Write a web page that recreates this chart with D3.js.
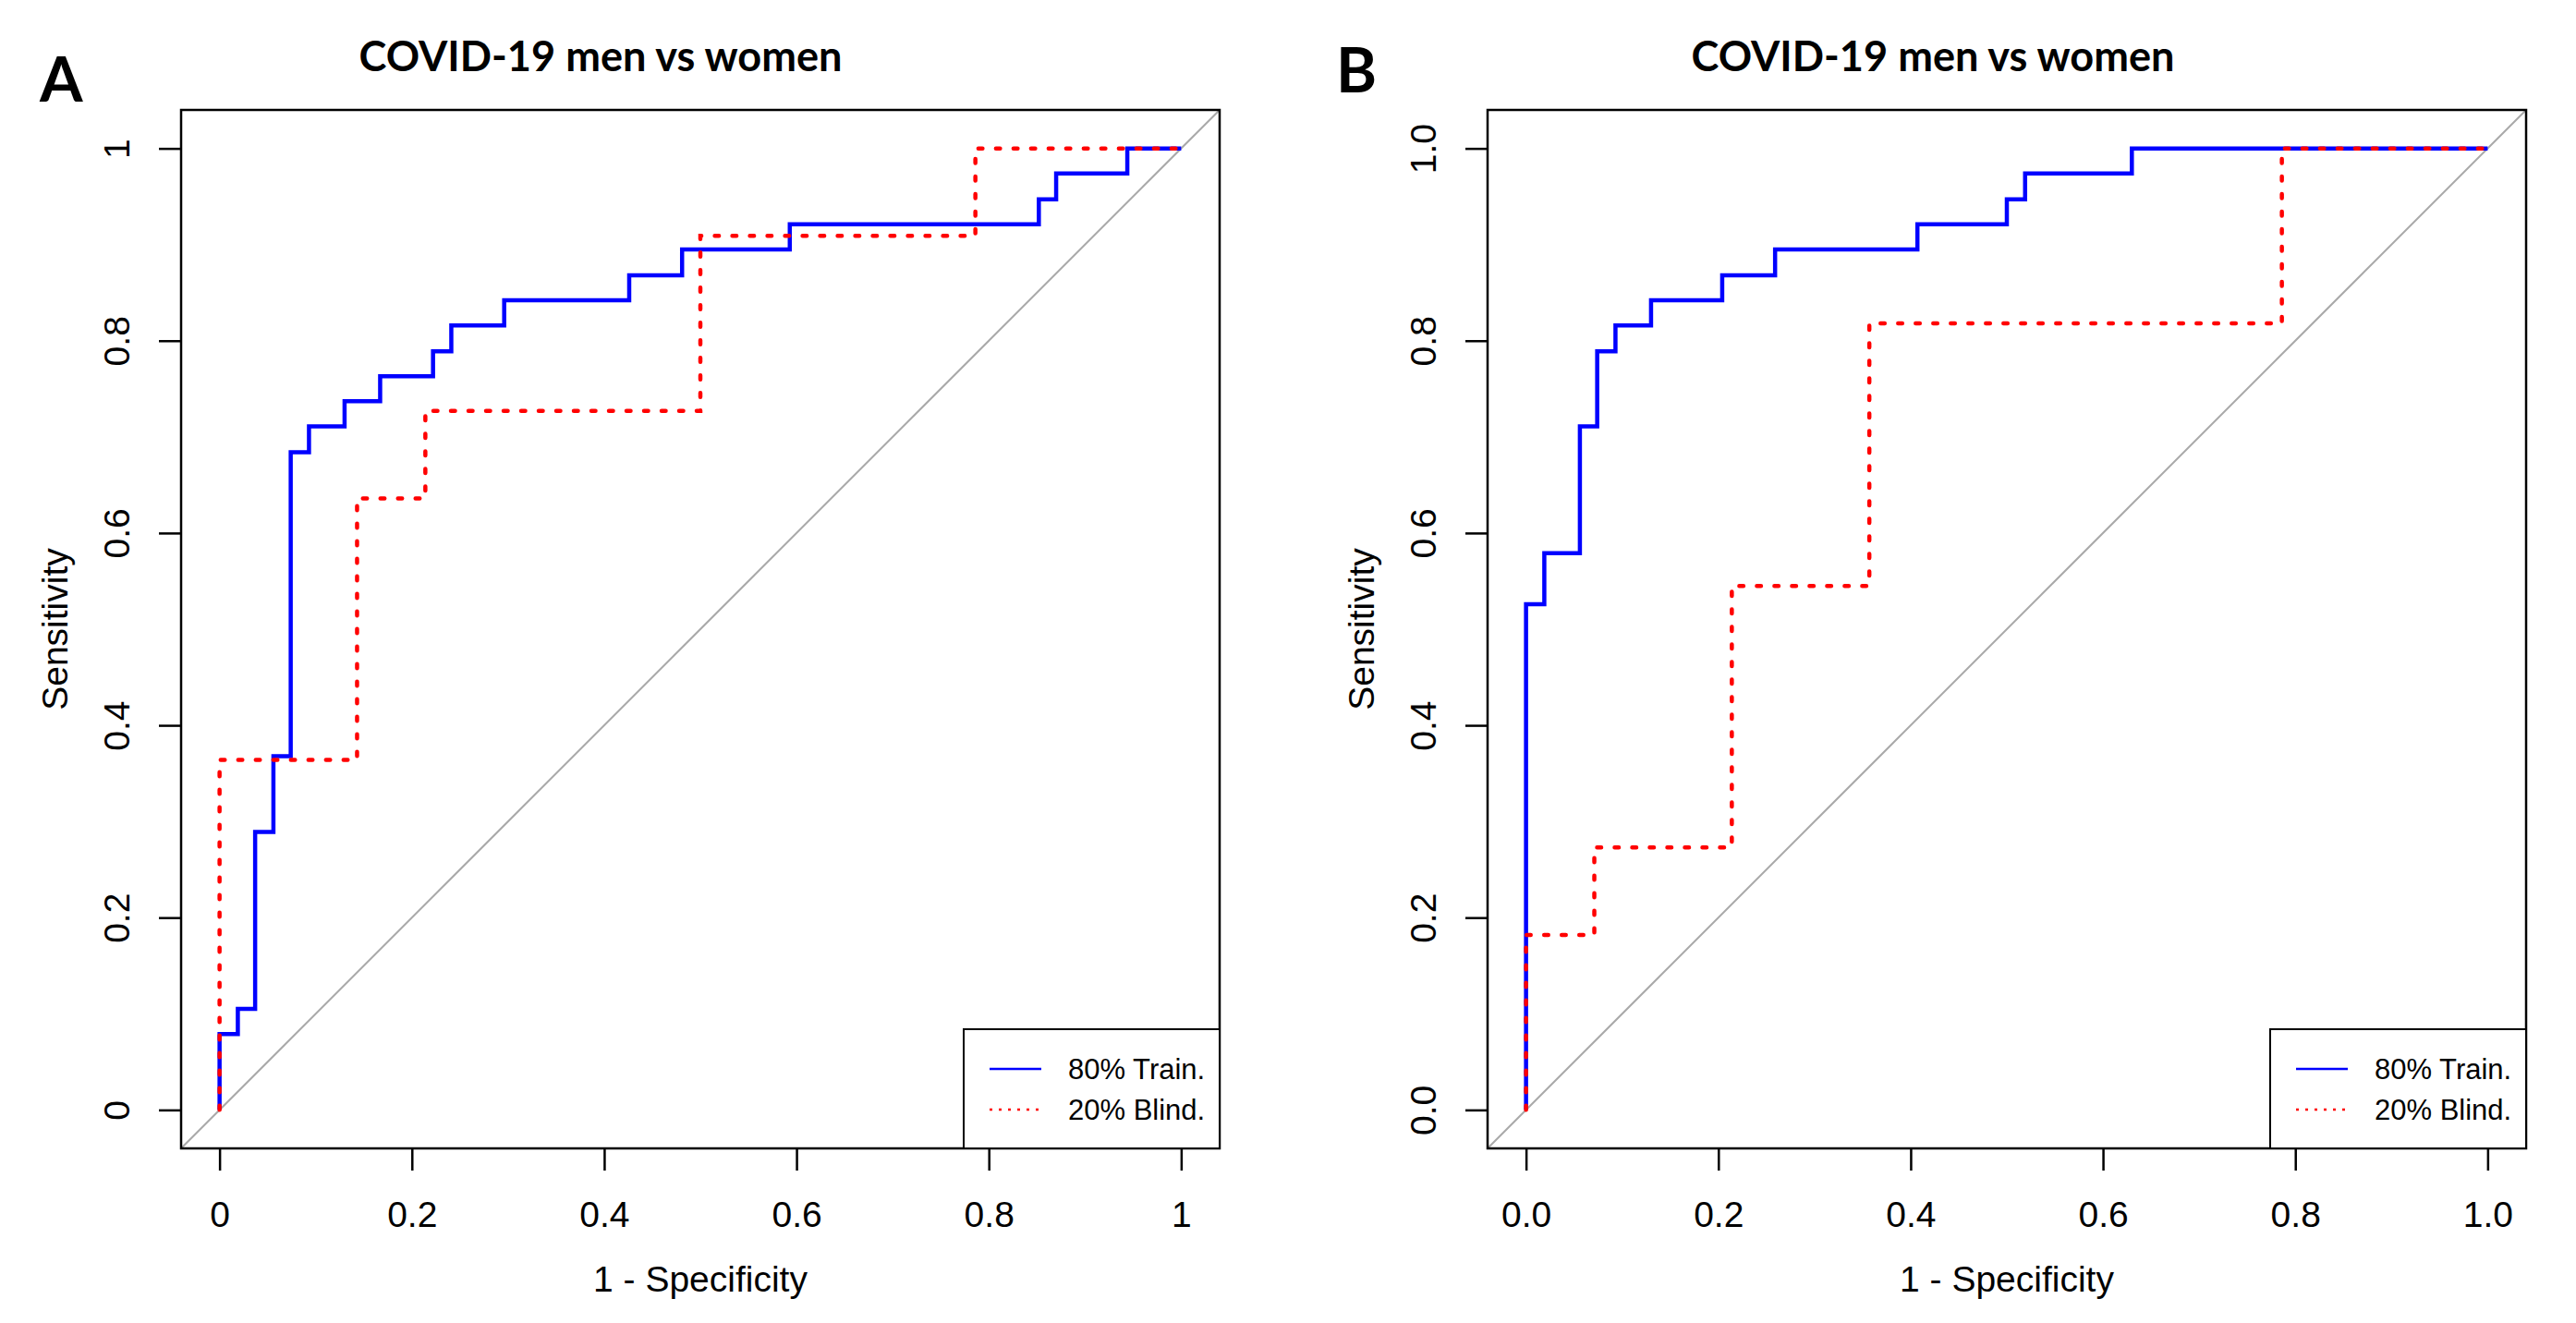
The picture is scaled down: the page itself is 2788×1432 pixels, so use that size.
<!DOCTYPE html>
<html>
<head>
<meta charset="utf-8">
<script src="https://cdn.jsdelivr.net/npm/d3@7"></script>
<style>
  html, body { margin: 0; padding: 0; background: #fff; }
  svg { display: block; }
</style>
</head>
<body>
<svg id="chart" width="2788" height="1432"></svg>
<script>
// ROC step points: at each fpr the curve climbs to the tpr value
const trainA_fpr = [0, 0.019, 0.037, 0.056, 0.074, 0.093, 0.130, 0.167, 0.222, 0.241, 0.296, 0.426, 0.481, 0.593, 0.852, 0.870, 0.944];
const trainA_tpr = [0.079, 0.105, 0.289, 0.368, 0.684, 0.711, 0.737, 0.763, 0.789, 0.816, 0.842, 0.868, 0.895, 0.921, 0.947, 0.974, 1];
const blindA_fpr = [0, 0.143, 0.214, 0.500, 0.786];
const blindA_tpr = [0.364, 0.636, 0.727, 0.909, 1];

const trainB_fpr = [0, 0.019, 0.056, 0.074, 0.093, 0.130, 0.204, 0.259, 0.407, 0.500, 0.519, 0.630];
const trainB_tpr = [0.526, 0.579, 0.711, 0.789, 0.816, 0.842, 0.868, 0.895, 0.921, 0.947, 0.974, 1];
const blindB_fpr = [0, 0.071, 0.214, 0.357, 0.786];
const blindB_tpr = [0.182, 0.273, 0.545, 0.818, 1];

const ticks = [0, 0.2, 0.4, 0.6, 0.8, 1];
const ticksA = ['0', '0.2', '0.4', '0.6', '0.8', '1'];
const ticksB = ['0.0', '0.2', '0.4', '0.6', '0.8', '1.0'];
const seriesNames = ['80% Train.', '20% Blind.'];

const FONT = '"Liberation Sans", Arial, Helvetica, sans-serif';
const TITLE_FONT = 'Lato, "Open Sans", sans-serif';
const SIZE = 1124, TOP = 119;

const svg = d3.select('#chart');
svg.append('rect').attr('width', 2788).attr('height', 1432).attr('fill', '#fff');

// turn step lists into corner points of the staircase
function corners(fpr, tpr) {
  const pts = [[0, 0]];
  fpr.forEach((f, i) => {
    pts.push([f, i === 0 ? 0 : tpr[i - 1]]);
    pts.push([f, tpr[i]]);
  });
  pts.push([1, 1]);
  return pts;
}

function drawPanel(p) {
  const x = d3.scaleLinear().domain([-0.04, 1.04]).range([p.left, p.left + SIZE]);
  const y = d3.scaleLinear().domain([-0.04, 1.04]).range([TOP + SIZE, TOP]);
  const bottom = TOP + SIZE;

  svg.append('clipPath').attr('id', 'clip' + p.letter)
    .append('rect').attr('x', p.left).attr('y', TOP).attr('width', SIZE).attr('height', SIZE);

  // diagonal reference line, clipped to the plot box
  svg.append('line').attr('clip-path', `url(#clip${p.letter})`)
    .attr('x1', x(-0.04)).attr('y1', y(-0.04)).attr('x2', x(1.04)).attr('y2', y(1.04))
    .attr('stroke', '#a9a9a9').attr('stroke-width', 2);

  const line = d3.line().x((d) => x(d[0])).y((d) => y(d[1]));
  svg.append('path').datum(corners(p.train[0], p.train[1]))
    .attr('fill', 'none').attr('stroke', '#0000ff').attr('stroke-width', 4.5).attr('d', line);
  svg.append('path').datum(corners(p.blind[0], p.blind[1]))
    .attr('fill', 'none').attr('stroke', '#ff0000').attr('stroke-width', 4.5)
    .attr('stroke-linecap', 'round').attr('stroke-dasharray', '4.5,14.5').attr('d', line);

  // axes
  const gx = svg.append('g').attr('transform', `translate(0,${bottom})`)
    .call(d3.axisBottom(x).tickValues(ticks).tickSize(24).tickPadding(33).tickFormat((d, i) => p.labels[i]));
  const gy = svg.append('g').attr('transform', `translate(${p.left},0)`)
    .call(d3.axisLeft(y).tickValues(ticks).tickSize(24).tickFormat((d, i) => p.labels[i]));
  [gx, gy].forEach((g) => {
    g.select('.domain').remove();
    g.selectAll('line').attr('stroke', '#000').attr('stroke-width', 2.5);
    g.selectAll('text').attr('font-family', FONT).attr('font-size', 39).attr('fill', '#000');
  });
  gy.selectAll('text').attr('x', null).attr('dy', null)
    .attr('text-anchor', 'middle').attr('transform', 'translate(-56,0) rotate(-90)');

  // plot box
  svg.append('rect').attr('x', p.left).attr('y', TOP).attr('width', SIZE).attr('height', SIZE)
    .attr('fill', 'none').attr('stroke', '#000').attr('stroke-width', 2.5);

  svg.append('text').attr('x', p.left + SIZE / 2).attr('y', 1398).attr('text-anchor', 'middle')
    .attr('font-family', FONT).attr('font-size', 39).text('1 - Specificity');
  svg.append('text').attr('transform', `translate(${p.left - 123},${TOP + SIZE / 2}) rotate(-90)`)
    .attr('text-anchor', 'middle').attr('font-family', FONT).attr('font-size', 39).text('Sensitivity');

  // legend
  const lx = p.left + 847, ly = 1114;
  svg.append('rect').attr('x', lx).attr('y', ly).attr('width', SIZE - 847).attr('height', bottom - ly)
    .attr('fill', '#fff').attr('stroke', '#000').attr('stroke-width', 2);
  const rows = [
    { name: seriesNames[0], color: '#0000ff', dash: null, cy: 1157 },
    { name: seriesNames[1], color: '#ff0000', dash: '3,7', cy: 1201 },
  ];
  rows.forEach((r) => {
    svg.append('line').attr('x1', lx + 28).attr('x2', lx + 84).attr('y1', r.cy).attr('y2', r.cy)
      .attr('stroke', r.color).attr('stroke-width', 2.5).attr('stroke-dasharray', r.dash);
    svg.append('text').attr('x', lx + 113).attr('y', r.cy + 11)
      .attr('font-family', FONT).attr('font-size', 31).text(r.name);
  });

  // title and panel letter
  svg.append('text').attr('x', p.titleX).attr('y', 77).attr('text-anchor', 'middle')
    .attr('font-family', TITLE_FONT).attr('font-weight', 700).attr('font-size', 46)
    .attr('textLength', 523).attr('lengthAdjust', 'spacingAndGlyphs').text('COVID-19 men vs women');
  svg.append('text').attr('x', p.letterX).attr('y', p.letterY)
    .attr('font-family', TITLE_FONT).attr('font-weight', 700).attr('font-size', 67).text(p.letter);
}

drawPanel({ letter: 'A', left: 196, labels: ticksA, train: [trainA_fpr, trainA_tpr], blind: [blindA_fpr, blindA_tpr], titleX: 650, letterX: 43, letterY: 110 });
drawPanel({ letter: 'B', left: 1610, labels: ticksB, train: [trainB_fpr, trainB_tpr], blind: [blindB_fpr, blindB_tpr], titleX: 2092, letterX: 1446, letterY: 100 });
</script>
</body>
</html>
